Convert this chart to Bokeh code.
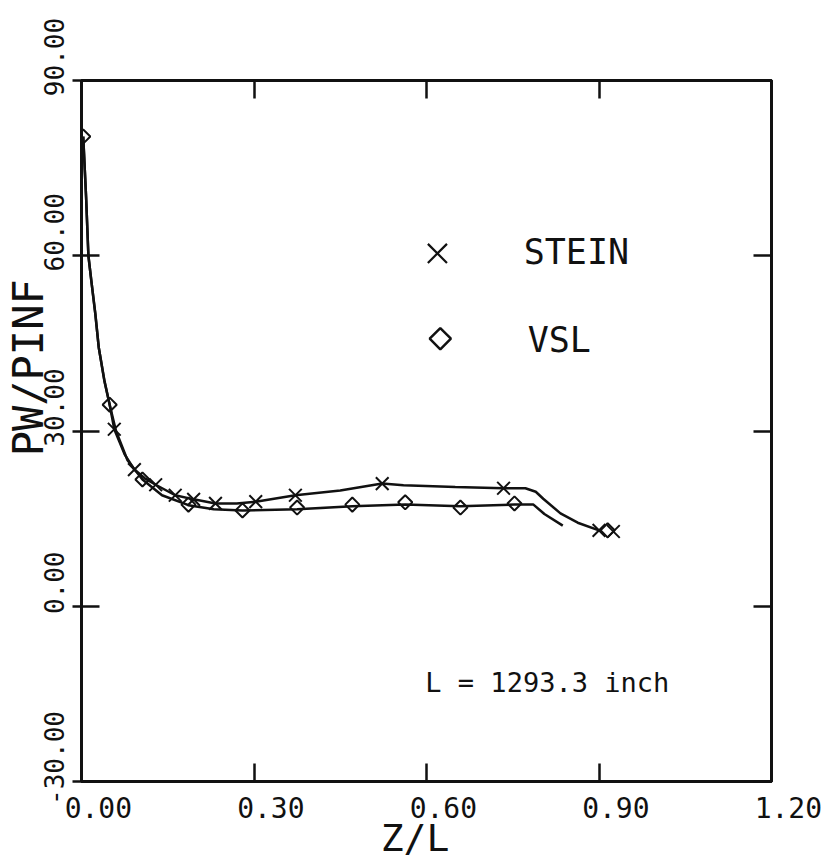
import math
from bokeh.plotting import figure
from bokeh.models import Label, LinearAxis, FixedTicker, ColumnDataSource
from bokeh.embed import file_html
from bokeh.resources import INLINE

# ---- data ----
x_ticks = [0.0, 0.3, 0.6, 0.9, 1.2]
x_tick_labels = ["0.00", "0.30", "0.60", "0.90", "1.20"]
y_ticks = [-30, 0, 30, 60, 90]
y_tick_labels = ["-30.00", "0.00", "30.00", "60.00", "90.00"]

stein_x = [0.057, 0.092, 0.129, 0.163, 0.195, 0.233, 0.303, 0.372, 0.523, 0.734, 0.900, 0.925]
stein_y = [30.3, 23.4, 20.8, 19.0, 18.3, 17.6, 17.9, 19.0, 21.0, 20.2, 13.0, 12.8]

vsl_x = [0.003, 0.049, 0.106, 0.186, 0.280, 0.375, 0.471, 0.563, 0.659, 0.753, 0.915]
vsl_y = [80.4, 34.5, 21.7, 17.4, 16.4, 16.9, 17.4, 17.8, 16.9, 17.6, 13.0]

stein_curve_x = [0.003, 0.008, 0.012, 0.017, 0.024, 0.030, 0.040, 0.049, 0.057, 0.075, 0.092, 0.110,
                 0.129, 0.163, 0.195, 0.233, 0.270, 0.303, 0.372, 0.450, 0.523, 0.560, 0.650, 0.734,
                 0.772, 0.790, 0.803, 0.833, 0.863, 0.900]
stein_curve_y = [80.4, 70.0, 60.0, 55.8, 50.1, 44.3, 38.5, 34.5, 30.3, 26.0, 23.4, 21.9,
                 20.8, 19.0, 18.3, 17.6, 17.6, 17.9, 19.0, 19.8, 21.0, 20.7, 20.4, 20.2,
                 20.2, 19.6, 18.4, 15.9, 14.3, 13.0]

vsl_curve_x = [0.003, 0.008, 0.012, 0.017, 0.024, 0.030, 0.040, 0.049, 0.060, 0.080, 0.106, 0.140,
               0.186, 0.230, 0.280, 0.375, 0.471, 0.563, 0.659, 0.753, 0.786, 0.805, 0.837]
vsl_curve_y = [80.4, 70.0, 60.0, 55.8, 50.1, 44.3, 38.5, 34.5, 30.0, 25.0, 21.7, 19.0,
               17.3, 16.6, 16.4, 16.6, 17.1, 17.4, 17.1, 17.4, 17.4, 15.8, 13.8]

series_names = ["STEIN", "VSL"]
note_text = "L = 1293.3 inch"
x_title = "Z/L"
y_title = "PW/PINF"

FONT = "DejaVu Sans Mono"
INK = "#111111"
NB = "\u00a0"

p = figure(frame_width=690, frame_height=701, x_range=(0, 1.2), y_range=(-30, 90),
           min_border_left=81, min_border_right=55, min_border_top=80, min_border_bottom=78,
           output_backend="svg", toolbar_location=None, x_axis_location=None, y_axis_location=None)
p.background_fill_color = "white"
p.border_fill_color = "white"
p.outline_line_color = INK
p.outline_line_width = 3
p.xgrid.visible = False
p.ygrid.visible = False


def make_axis(ticks, tick_out):
    ax = LinearAxis(ticker=FixedTicker(ticks=ticks))
    ax.axis_line_color = INK
    ax.axis_line_width = 3
    ax.major_tick_line_color = INK
    ax.major_tick_line_width = 2.5
    ax.major_tick_in = 18
    ax.major_tick_out = tick_out
    ax.minor_tick_line_color = None
    return ax


# bottom axis with labels
xb = make_axis(x_ticks, 0)
xb.major_label_overrides = {v: NB * 2 + t for v, t in zip(x_ticks, x_tick_labels)}
xb.major_label_text_font = FONT
xb.major_label_text_font_size = "28px"
xb.major_label_text_color = INK
xb.major_label_standoff = 10
xb.axis_label = x_title + NB
xb.axis_label_text_font = FONT
xb.axis_label_text_font_size = "38px"
xb.axis_label_text_font_style = "normal"
xb.axis_label_text_color = INK
xb.axis_label_standoff = -12
p.add_layout(xb, "below")

# left axis with labels
yl = make_axis(y_ticks, 9)
yl.major_label_overrides = {v: NB * 3 + t for v, t in zip(y_ticks, y_tick_labels)}
yl.major_label_orientation = "vertical"
yl.major_label_text_font = FONT
yl.major_label_text_font_size = "26px"
yl.major_label_text_color = INK
yl.major_label_standoff = 3
yl.axis_label = NB * 5 + y_title
yl.axis_label_text_font = FONT
yl.axis_label_text_font_size = "42px"
yl.axis_label_text_font_style = "normal"
yl.axis_label_text_color = INK
yl.axis_label_standoff = -16
p.add_layout(yl, "left")

# top and right axes: ticks only
xt = make_axis(x_ticks, 0)
xt.major_label_text_color = None
p.add_layout(xt, "above")
yr = make_axis(y_ticks, 0)
yr.major_label_text_color = None
p.add_layout(yr, "right")

# curves
p.line(stein_curve_x, stein_curve_y, line_color=INK, line_width=2.5)
p.line(vsl_curve_x, vsl_curve_y, line_color=INK, line_width=2.5)

# markers
p.scatter(stein_x, stein_y, marker="x", size=18, line_color=INK, line_width=2)
p.scatter(vsl_x, vsl_y, marker="square", angle=math.pi / 4, size=10,
          fill_alpha=0.0, line_color=INK, line_width=2)

# legend (drawn in place as in the reference)
leg_src = ColumnDataSource(dict(mx=[0.619], my=[60.4]))
p.scatter("mx", "my", source=leg_src, marker="x", size=27, line_color=INK, line_width=2.2)
leg_src2 = ColumnDataSource(dict(mx=[0.624], my=[45.8]))
p.scatter("mx", "my", source=leg_src2, marker="square", angle=math.pi / 4, size=15,
          fill_alpha=0.0, line_color=INK, line_width=2.5)
p.add_layout(Label(x=0.769, y=60.56, text=series_names[0], text_font=FONT, text_font_size="35px",
                   text_color=INK, text_baseline="alphabetic", text_align="left"))
p.add_layout(Label(x=0.776, y=45.5, text=series_names[1], text_font=FONT, text_font_size="35px",
                   text_color=INK, text_baseline="alphabetic", text_align="left"))
p.add_layout(Label(x=0.598, y=-13.05, text=note_text, text_font=FONT, text_font_size="27px",
                   text_color=INK, text_baseline="alphabetic", text_align="left"))

open("out.html", "w").write(file_html(p, INLINE))
